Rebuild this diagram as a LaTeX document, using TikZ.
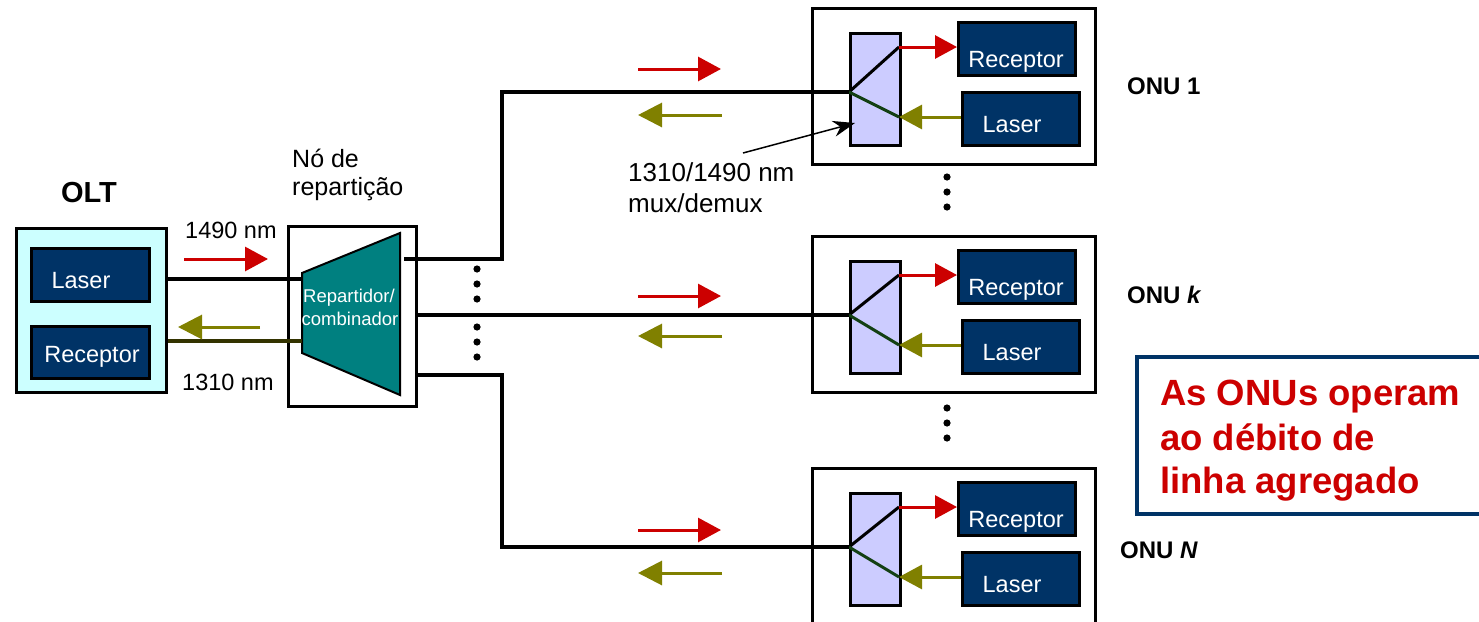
\documentclass[tikz,border=0pt]{standalone}
\usepackage{fontspec}
\setmainfont{Liberation Sans}
\usetikzlibrary{arrows.meta}
\definecolor{navy}{HTML}{003366}
\definecolor{tealc}{HTML}{008080}
\definecolor{cyanfill}{HTML}{CCFFFF}
\definecolor{muxfill}{HTML}{CCCCFF}
\definecolor{arrred}{HTML}{CC0000}
\definecolor{arrolive}{HTML}{808000}
\definecolor{dkgreen}{HTML}{134013}
\definecolor{dkolive}{HTML}{333300}
\newcommand\fs[1]{\fontsize{#1}{#1}\selectfont}
\tikzset{
  plainbox/.style={draw=black, line width=2.5pt, inner sep=0pt, anchor=north west},
  navybox/.style={plainbox, fill=navy},
  fiber/.style={line width=4pt, black},
  redarr/.style={draw=arrred, line width=3pt, -{Triangle[length=23pt,width=24pt]}},
  olivearr/.style={draw=arrolive, line width=3pt, -{Triangle[length=24pt,width=24pt]}},
  boxtext/.style={text=white, anchor=base, inner sep=0pt, font=\fs{23.5}},
  lbl/.style={anchor=base west, inner sep=0pt, font=\fs{23.5}},
  dot/.style={fill=black, draw=none},
}
\begin{document}
\begin{tikzpicture}[x=1pt, y=-1pt]
\useasboundingbox (0,0) rectangle (1479,621);
\fill[white] (0,0) rectangle (1479,621);

% OLT
\node[plainbox, fill=cyanfill, minimum width=150, minimum height=164] (olt) at (15,227) {};
\node[anchor=base, inner sep=0pt, font=\bfseries\fs{29}] (oltlbl) at (89,202) {OLT};
\node[navybox, minimum width=118, minimum height=53] (oltlas) at (30,247) {};
\node[boxtext] (oltlastx) at (81,288) {Laser};
\node[navybox, minimum width=118, minimum height=52] (oltrec) at (30,325) {};
\node[boxtext] (oltrectx) at (92,362) {Receptor};
\node[lbl] (l1490) at (185,238) {1490 nm};
\node[lbl] (l1310) at (182,390) {1310 nm};

% splitter node
\node[plainbox, minimum width=128, minimum height=180] (sbox) at (287,225) {};
\node[anchor=base west, inner sep=0pt, font=\fs{25}] (nolbl) at (292,167) {Nó de};
\node[anchor=base west, inner sep=0pt, font=\fs{25}] (replbl) at (292,195) {repartição};
\draw[line width=2pt, fill=tealc] (302,273) -- (400,233) -- (400,395) -- (302,353) -- cycle;
\coordinate (trapL1) at (302,279);
\coordinate (trapL2) at (302,341);
\node[anchor=base, inner sep=0pt, text=white, font=\fs{18.5}] (rep1) at (349,302) {Repartidor/};
\node[anchor=base, inner sep=0pt, text=white, font=\fs{18.5}] (rep2) at (350,325) {combinador};

% OLT links
\draw[line width=3.5pt, black] (olt.east |- trapL1) -- (trapL1);
\draw[line width=3.5pt, dkolive] (olt.east |- trapL2) -- (trapL2);
\coordinate (ra1) at (184,259); \coordinate (ra2) at (268,259);
\draw[redarr] (ra1) -- (ra2);
\coordinate (oa1) at (260,327); \coordinate (oa2) at (178,327);
\draw[olivearr] (oa1) -- (oa2);

% ONUs
\foreach \n/\t/\f/\r/\o in {1/7/92/69/115, k/235/315/296/336, N/467/547/530/573}{
  \node[plainbox, minimum width=283, minimum height=156] (onu\n) at (811,\t) {};
  \node[plainbox, fill=muxfill, minimum width=50, minimum height=112] (mux\n) at (849,\t+25) {};
  \node[navybox, minimum width=117, minimum height=53] (rec\n) at (957,\t+14) {};
  \node[navybox, minimum width=117, minimum height=53] (las\n) at (961,\t+84) {};
  \node[boxtext] (rectx\n) at (1016,\t+60) {Receptor};
  \node[boxtext] (lastx\n) at (1012,\t+125) {Laser};
  \coordinate (j\n) at (849,\f);
  \coordinate (mu\n) at (899,\t+40);
  \coordinate (ml\n) at (899,\t+110);
  \draw[line width=3pt, black] (j\n) -- (mu\n);
  \draw[line width=3pt, dkgreen] (j\n) -- (ml\n);
  \draw[redarr, -{Triangle[length=22pt,width=23pt]}] (mu\n) -- (rec\n.west |- mu\n);
  \draw[olivearr, -{Triangle[length=23pt,width=24pt]}] (las\n.west |- ml\n) -- (ml\n);
  \coordinate (orA\n) at (638,\r); \coordinate (orB\n) at (721,\r);
  \draw[redarr] (orA\n) -- (orB\n);
  \coordinate (ooA\n) at (722,\o); \coordinate (ooB\n) at (638,\o);
  \draw[olivearr] (ooA\n) -- (ooB\n);
}
\node[anchor=base west, inner sep=0pt, font=\bfseries\fs{24}] (onu1lbl) at (1127,94) {ONU 1};
\node[anchor=base west, inner sep=0pt, font=\bfseries\fs{24}] (onuklbl) at (1127,303) {ONU \textit{k}};
\node[anchor=base west, inner sep=0pt, font=\bfseries\fs{24}] (onuNlbl) at (1120,558) {ONU \textit{N}};

% fibers
\coordinate (s1) at (404,259);
\coordinate (s2) at (415,315);
\coordinate (s3) at (415,375);
\draw[fiber] (s1) -- (502,259) -- (502,92) -- (j1);
\draw[fiber] (s2) -- (jk);
\draw[fiber] (s3) -- (502,375) -- (502,547) -- (jN);

% dots
\foreach \y in {269,284,299,327,342,357} \fill[dot] (477,\y) circle (3.6);
\foreach \y in {177,192,207,408,423,438} \fill[dot] (947,\y) circle (3.6);

% mux annotation
\node[anchor=base west, inner sep=0pt, font=\fs{26}] (mx1) at (628,181) {1310/1490 nm};
\node[anchor=base west, inner sep=0pt, font=\fs{26}] (mx2) at (628,212) {mux/demux};
\coordinate (annS) at (743,153);
\coordinate (annE) at (855,123);
\draw[line width=1.5pt, -{Stealth[length=22pt,width=16pt]}] (annS) -- (annE);

% note
\draw[navy, line width=4.5pt] (1520,357) -- (1137,357) -- (1137,514) -- (1520,514);
\node[anchor=base west, inner sep=0pt, text=arrred, font=\bfseries\fs{36.5}] (n1) at (1160,405) {As ONUs operam};
\node[anchor=base west, inner sep=0pt, text=arrred, font=\bfseries\fs{36.5}] (n2) at (1160,450) {ao débito de};
\node[anchor=base west, inner sep=0pt, text=arrred, font=\bfseries\fs{36.5}] (n3) at (1160,493) {linha agregado};
\end{tikzpicture}
\end{document}
